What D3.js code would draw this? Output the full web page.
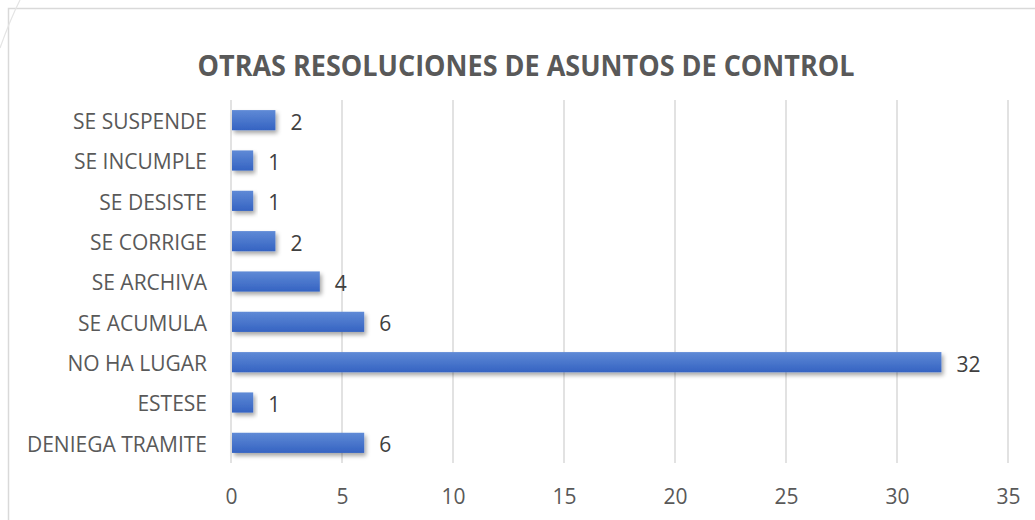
<!DOCTYPE html>
<html>
<head>
<meta charset="utf-8">
<script src="https://cdn.jsdelivr.net/npm/d3@7"></script>
<style>
  body { margin: 0; background: #fff; }
  svg { display: block; }
</style>
</head>
<body>
<svg id="chart" width="1035" height="520"></svg>
<script>
// categories top to bottom
const categories = ['SE SUSPENDE', 'SE INCUMPLE', 'SE DESISTE', 'SE CORRIGE', 'SE ARCHIVA',
  'SE ACUMULA', 'NO HA LUGAR', 'ESTESE', 'DENIEGA TRAMITE'];
const values = [2, 1, 1, 2, 4, 6, 32, 1, 6];
const xTicks = [0, 5, 10, 15, 20, 25, 30, 35];
const title = 'OTRAS RESOLUCIONES DE ASUNTOS DE CONTROL';

const font = '"Open Sans", sans-serif';
const labelSize = 21;
const margin = { top: 100, right: 27, bottom: 57, left: 231 };
const width = 1035, height = 520;

const svg = d3.select('#chart');

// gradient + shadow for the bars
const defs = svg.append('defs');
const grad = defs.append('linearGradient')
  .attr('id', 'barGrad')
  .attr('x1', 0).attr('y1', 0).attr('x2', 0).attr('y2', 1);
grad.append('stop').attr('offset', '0%').attr('stop-color', '#5f8ad6');
grad.append('stop').attr('offset', '100%').attr('stop-color', '#3563c2');

const shadow = defs.append('filter')
  .attr('id', 'barShadow')
  .attr('x', '-10%').attr('y', '-30%').attr('width', '130%').attr('height', '190%');
shadow.append('feDropShadow')
  .attr('dx', 2).attr('dy', 3).attr('stdDeviation', 2.2)
  .attr('flood-color', '#000').attr('flood-opacity', 0.35);

// chart frame (only top & left edges are visible in the crop)
svg.append('path')
  .attr('d', `M8.5,${height} V8.5 H${width}`)
  .attr('fill', 'none')
  .attr('stroke', '#d9d9d9')
  .attr('stroke-width', 1.5);

// faint stray stroke at the top-left corner
svg.append('path')
  .attr('d', 'M20,0 Q10,20 0,48')
  .attr('fill', 'none')
  .attr('stroke', '#e4e4e4')
  .attr('stroke-width', 1.2);

svg.append('text')
  .attr('x', 526)
  .attr('y', 76)
  .attr('text-anchor', 'middle')
  .attr('font-family', font)
  .attr('font-weight', 'bold')
  .attr('font-size', 28)
  .attr('fill', '#595959')
  .attr('textLength', 657)
  .attr('lengthAdjust', 'spacingAndGlyphs')
  .text(title);

const x = d3.scaleLinear()
  .domain([0, 35])
  .range([margin.left, width - margin.right]);

const y = d3.scaleBand()
  .domain(categories)
  .range([margin.top, height - margin.bottom])
  .paddingInner(0.5)
  .paddingOuter(0.25);

// vertical gridlines
svg.append('g')
  .selectAll('line')
  .data(xTicks)
  .join('line')
  .attr('x1', d => x(d)).attr('x2', d => x(d))
  .attr('y1', margin.top).attr('y2', height - margin.bottom)
  .attr('stroke', '#d9d9d9')
  .attr('stroke-width', 1.5);

// x axis labels
const xAxis = svg.append('g')
  .attr('transform', `translate(0,${height - margin.bottom})`)
  .call(d3.axisBottom(x).tickValues(xTicks).tickSize(0).tickPadding(26));
xAxis.select('.domain').remove();
xAxis.selectAll('text')
  .attr('font-family', font)
  .attr('font-size', labelSize)
  .attr('fill', '#595959');

// category labels
const yAxis = svg.append('g')
  .attr('transform', `translate(${margin.left},2)`)
  .call(d3.axisLeft(y).tickSize(0).tickPadding(24));
yAxis.select('.domain').remove();
yAxis.selectAll('text')
  .attr('font-family', font)
  .attr('font-size', labelSize)
  .attr('fill', '#595959');

const rows = categories.map((c, i) => ({ c, v: values[i] }));

svg.append('g')
  .selectAll('rect')
  .data(rows)
  .join('rect')
  .attr('x', x(0) + 1)
  .attr('y', d => y(d.c))
  .attr('width', d => x(d.v) - x(0) - 1)
  .attr('height', y.bandwidth())
  .attr('fill', 'url(#barGrad)')
  .attr('filter', 'url(#barShadow)');

svg.append('g')
  .selectAll('text')
  .data(rows)
  .join('text')
  .attr('x', d => x(d.v) + 15)
  .attr('y', d => y(d.c) + y.bandwidth() / 2 + 2)
  .attr('dy', '0.35em')
  .attr('font-family', font)
  .attr('font-size', labelSize)
  .attr('fill', '#404040')
  .text(d => d.v);
</script>
</body>
</html>
